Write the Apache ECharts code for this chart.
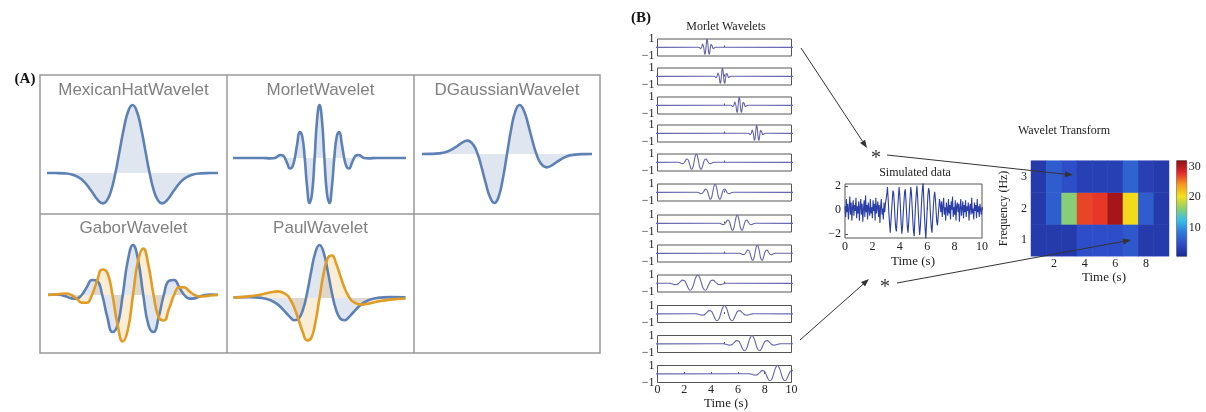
<!DOCTYPE html>
<html>
<head>
<meta charset="utf-8">
<script src="https://cdn.jsdelivr.net/npm/echarts@6/dist/echarts.min.js"></script>
<style>
  body { margin: 0; background: #fff; }
  #chart { width: 1206px; height: 412px; }
</style>
</head>
<body>
<div id="chart"></div>
<script>
// ---- panel A : wavelet shapes ([t, value]) ----
var mexicanHat = [[-5,0],[-4.5,-0.001],[-4,-0.005],[-3.5,-0.025],[-3,-0.089],[-2.5,-0.231],[-2,-0.406],[-1.73,-0.446],[-1.5,-0.406],[-1.25,-0.258],[-1,0],[-0.75,0.33],[-0.5,0.662],[-0.25,0.909],[0,1],
  [0.25,0.909],[0.5,0.662],[0.75,0.33],[1,0],[1.25,-0.258],[1.5,-0.406],[1.73,-0.446],[2,-0.406],[2.5,-0.231],[3,-0.089],[3.5,-0.025],[4,-0.005],[4.5,-0.001],[5,0]];

var morlet = [[-5.5,0],[-3.6,0],[-3.14,-0.007],[-2.83,0],[-2.67,0.03],[-2.51,0.055],[-2.36,0.05],[-2.2,0],[-2.04,-0.11],[-1.88,-0.2],[-1.73,-0.17],[-1.57,0],[-1.41,0.28],[-1.26,0.49],[-1.1,0.41],[-0.94,0],[-0.79,-0.54],[-0.63,-0.85],[-0.47,-0.66],[-0.31,0],[-0.16,0.7],[0,1],
  [0.16,0.7],[0.31,0],[0.47,-0.66],[0.63,-0.85],[0.79,-0.54],[0.94,0],[1.1,0.41],[1.26,0.49],[1.41,0.28],[1.57,0],[1.73,-0.17],[1.88,-0.2],[2.04,-0.11],[2.2,0],[2.36,0.05],[2.51,0.055],[2.67,0.03],[2.83,0],[3.14,-0.007],[3.6,0],[5.5,0]];

var dGaussian = [[-5,0],[-4.5,0.002],[-4,0.013],[-3.5,0.051],[-3,0.145],[-2.75,0.207],[-2.33,0.272],[-2,0.196],[-1.73,0],[-1.5,-0.265],[-1.25,-0.596],[-1,-0.879],[-0.74,-1],[-0.5,-0.879],[-0.25,-0.516],[0,0],
  [0.25,0.516],[0.5,0.879],[0.74,1],[1,0.879],[1.25,0.596],[1.5,0.265],[1.73,0],[2,-0.196],[2.33,-0.272],[2.75,-0.207],[3,-0.145],[3.5,-0.051],[4,-0.013],[4.5,-0.002],[5,0]];

var gaborRe = [[-2.07,0.005],[-1.875,0.01],[-1.75,0],[-1.625,-0.03],[-1.5,-0.067],[-1.375,-0.073],[-1.25,0],[-1.125,0.155],[-1,0.301],[-0.875,0.282],[-0.75,0],[-0.625,-0.443],[-0.5,-0.741],[-0.375,-0.597],[-0.25,0],[-0.125,0.694],[0,1],
  [0.125,0.694],[0.25,0],[0.375,-0.597],[0.5,-0.741],[0.625,-0.443],[0.75,0],[0.875,0.282],[1,0.301],[1.125,0.155],[1.25,0],[1.375,-0.073],[1.5,-0.067],[1.625,-0.03],[1.75,0],[1.875,0.01],[2.07,0.005]];

var gaborIm = [[-2.07,0],[-1.875,0.01],[-1.75,0.025],[-1.625,0.03],[-1.5,0],[-1.375,-0.073],[-1.25,-0.153],[-1.125,-0.155],[-1,0],[-0.875,0.282],[-0.75,0.509],[-0.625,0.443],[-0.5,0],[-0.375,-0.597],[-0.25,-0.928],[-0.125,-0.694],[0,0],
  [0.125,0.694],[0.25,0.928],[0.375,0.597],[0.5,0],[0.625,-0.443],[0.75,-0.509],[0.875,-0.282],[1,0],[1.125,0.155],[1.25,0.153],[1.375,0.073],[1.5,0],[1.625,-0.03],[1.75,-0.025],[1.875,-0.01],[2.07,0]];

var paulRe = [[-2.07,0.012],[-1.7,0.016],[-1.4,0.003],[-1.2,-0.035],[-1,-0.125],[-0.8,-0.283],[-0.7,-0.368],[-0.6,-0.42],[-0.5,-0.389],[-0.4,-0.225],[-0.3,0.091],[-0.2,0.5],[-0.1,0.857],[0,1],
  [0.1,0.857],[0.2,0.5],[0.3,0.091],[0.4,-0.225],[0.5,-0.389],[0.6,-0.42],[0.7,-0.368],[0.8,-0.283],[1,-0.125],[1.2,-0.035],[1.4,0.003],[1.7,0.016],[2.07,0.012]];

var paulIm = [[-2.07,0.01],[-1.7,0.03],[-1.4,0.066],[-1.2,0.102],[-1,0.125],[-0.8,0.066],[-0.7,-0.033],[-0.6,-0.197],[-0.5,-0.42],[-0.4,-0.652],[-0.3,-0.801],[-0.2,-0.757],[-0.1,-0.466],[0,0],
  [0.1,0.466],[0.2,0.757],[0.3,0.801],[0.4,0.652],[0.5,0.42],[0.6,0.197],[0.7,0.033],[0.8,-0.066],[1,-0.125],[1.2,-0.102],[1.4,-0.066],[1.7,-0.03],[2.07,-0.01]];

// ---- panel B : Morlet wavelet family ----
// one wavelet read in units of its own period: [offset in periods, value]
var waveletShape = [[-2,0.026],[-1.875,0.028],[-1.75,0],[-1.625,-0.063],[-1.5,-0.128],[-1.375,-0.125],[-1.25,0],[-1.125,0.222],[-1,0.4],[-0.875,0.351],[-0.75,0],[-0.625,-0.495],[-0.5,-0.795],[-0.375,-0.622],[-0.25,0],[-0.125,0.697],[0,1],
  [0.125,0.697],[0.25,0],[0.375,-0.622],[0.5,-0.795],[0.625,-0.495],[0.75,0],[0.875,0.351],[1,0.4],[1.125,0.222],[1.25,0],[1.375,-0.125],[1.5,-0.128],[1.625,-0.063],[1.75,0],[1.875,0.028],[2,0.026]];
var rowCenters = [3.7, 4.85, 6.1, 7.4, 2.9, 4.3, 5.95, 7.45, 3.0, 5.0, 7.05, 8.95];
var rowPeriods = [0.33, 0.33, 0.33, 0.33, 0.72, 0.72, 0.72, 0.72, 1.15, 1.15, 1.15, 1.15];

// ---- simulated data (0 .. 10 s, one value every 0.05 s) ----
var simStep = 0.05;
var simValues = [
  0.3,-0.6,0.9,-0.2,0.5,-0.8,0.1,1.1,-0.4,0.6,-0.9,0.2,0.8,-0.5,0.4,-0.1,1.0,-0.7,0.3,-0.3,
  0.7,-0.9,0.2,0.9,-0.4,0.5,-1.0,0.1,0.8,-0.6,1.2,-0.2,0.4,-0.8,0.6,0.0,-0.5,0.9,-0.3,0.2,
  -0.7,0.8,-0.1,0.5,-0.9,1.0,-0.3,0.2,0.7,-0.6,0.4,-1.1,0.3,0.9,-0.4,0.1,-0.8,0.6,-0.2,0.5,
  0.4,1.3,1.9,0.9,-0.2,-1.1,-1.9,-1.0,-0.1,
  0.8,1.6,1.4,0.5,-0.7,-1.5,-1.8,-0.9,0.2,
  1.1,1.9,1.2,0.1,-1.2,-2.0,-1.4,-0.3,0.6,
  1.5,1.7,0.8,-0.4,-1.4,-1.9,-1.1,0.0,1.0,
  1.9,1.4,0.3,-0.9,-1.8,-2.2,-0.8,0.4,1.3,
  2.0,1.1,-0.2,-1.3,-2.1,-1.4,-0.3,0.9,1.7,
  2.3,0.9,-0.5,-1.6,-2.4,-1.2,0.1,1.2,1.8,
  1.6,0.5,-0.7,-1.5,-1.9,-0.8,0.3,1.1,1.5,
  0.9,-0.1,-1.0,-1.3,-0.6,0.2,0.9,0.4,
  -0.2,0.7,-0.6,0.3,1.0,-0.4,0.2,-0.9,0.6,0.1,-0.5,0.9,-0.3,0.4,-0.8,0.7,0.0,1.1,-0.6,0.2,
  -0.4,0.8,-0.9,0.3,0.6,-0.2,0.5,-1.0,0.2,0.9,-0.5,0.1,0.7,-0.7,0.4,-0.2,0.8,-0.6,0.3,-0.1,
  0.6,-0.9,0.2,0.5,-0.4,1.0,-0.3,0.1,-0.8,0.6,-0.1,0.4,-0.7,0.9,-0.2,0.3,-0.6,0.5,0.0,-0.4,0.2
];

// ---- wavelet transform (power per time bin) ----
var timeBins = ['1','2','3','4','5','6','7','8','9'];
var freqBins = ['1','2','3'];
var power1Hz = [2.5, 2.5, 2.5, 4.5, 4.5, 4.5, 5.5, 2.5, 2.5];
var power2Hz = [2.5, 6, 16, 27, 27.5, 31, 20.5, 6, 2.5];
var power3Hz = [2.5, 6, 4.5, 3, 3, 3, 6.5, 3, 2.5];
var colorbarTicks = [10, 20, 30];

// ---- styles ----
var blue = '#5e81b5', orange = '#e19c24';
var blueFill = 'rgba(94,129,181,0.28)', orangeFill = 'rgba(225,156,36,0.26)';
var serif = 'Liberation Serif';
var jet = ['#1c2a90','#2e4cc8','#2f78d8','#35c0e8','#8ecf6e','#f2e11c','#f59a20','#e3262a','#8e1014'];
var rowTops = [39, 68, 97, 125, 154, 184, 215, 245, 275, 305.5, 335.5, 365.5];

var chart = echarts.init(document.getElementById('chart'));

var grid = [], xAxis = [], yAxis = [], series = [];

// panel A cells: grid rect + axis ranges
function waveCell(g, xr, yr, curves) {
  var i = grid.length;
  grid.push(g);
  xAxis.push({ gridIndex: i, type: 'value', min: xr[0], max: xr[1], show: false });
  yAxis.push({ gridIndex: i, type: 'value', min: yr[0], max: yr[1], show: false });
  curves.forEach(function (c) {
    series.push({
      type: 'line', xAxisIndex: i, yAxisIndex: i, data: c[0], smooth: true,
      symbol: 'none', silent: true,
      lineStyle: { color: c[1], width: 2.6 },
      areaStyle: { color: c[2], origin: 'auto' }
    });
  });
}
waveCell({ left: 47, top: 91.4, width: 171, height: 122.4 }, [-5, 5], [-0.6, 1.2], [[mexicanHat, blue, blueFill]]);
waveCell({ left: 233, top: 94.4, width: 173, height: 119.2 }, [-5.5, 5.5], [-1.05, 1.2], [[morlet, blue, blueFill]]);
waveCell({ left: 422, top: 95.2, width: 170, height: 117.6 }, [-5, 5], [-1.2, 1.2], [[dGaussian, blue, blueFill]]);
waveCell({ left: 48, top: 235, width: 170, height: 115 }, [-2.07, 2.07], [-1.1, 1.2], [[gaborRe, blue, blueFill], [gaborIm, orange, orangeFill]]);
waveCell({ left: 233.5, top: 234.4, width: 172, height: 116.6 }, [-2.07, 2.07], [-1.0, 1.2], [[paulRe, blue, blueFill], [paulIm, orange, orangeFill]]);

// panel B rows of Morlet wavelets
rowCenters.forEach(function (c, r) {
  var i = grid.length;
  var last = r === rowCenters.length - 1;
  grid.push({ left: 657.5, top: rowTops[r], width: 134, height: 17, show: true, borderColor: '#555', borderWidth: 1 });
  xAxis.push({
    gridIndex: i, type: 'value', min: 0, max: 10, interval: last ? 2 : 5,
    axisLine: { show: false }, splitLine: { show: false },
    axisTick: { show: true, inside: true, length: 2, lineStyle: { color: '#555' } },
    axisLabel: { show: last, margin: 1, fontFamily: serif, fontSize: 12, color: '#222' }
  });
  yAxis.push({
    gridIndex: i, type: 'value', min: -1, max: 1, interval: 1,
    axisLine: { show: false }, splitLine: { show: false }, axisTick: { show: false },
    axisLabel: {
      margin: 3, fontFamily: serif, fontSize: 12, color: '#222',
      formatter: function (v) { return v === 0 ? '' : (v < 0 ? '\u22121' : '1'); }
    }
  });
  var pts = [[-5, 0]];
  waveletShape.forEach(function (p) { pts.push([c + p[0] * rowPeriods[r], p[1]]); });
  pts.push([15, 0]);
  series.push({
    type: 'line', xAxisIndex: i, yAxisIndex: i, data: pts, smooth: true, clip: true,
    symbol: 'none', silent: true, lineStyle: { color: '#6565ad', width: 1.1 }
  });
});

// simulated data
var simIdx = grid.length;
grid.push({ left: 845, top: 184, width: 137, height: 54, show: true, borderColor: '#555', borderWidth: 1 });
xAxis.push({
  gridIndex: simIdx, type: 'value', min: 0, max: 10, interval: 2,
  axisLine: { show: false }, splitLine: { show: false },
  axisTick: { show: true, inside: true, length: 3, lineStyle: { color: '#555' } },
  axisLabel: { margin: 3, fontFamily: serif, fontSize: 12, color: '#222' }
});
yAxis.push({
  gridIndex: simIdx, type: 'value', min: -2.35, max: 2.15,
  axisLine: { show: false }, splitLine: { show: false },
  axisTick: { show: true, inside: true, length: 3, customValues: [-2, 0, 2], lineStyle: { color: '#555' } },
  axisLabel: {
    margin: 4, fontFamily: serif, fontSize: 12, color: '#222', customValues: [-2, 0, 2],
    formatter: function (v) { return String(v).replace('-', '\u2212'); }
  }
});
series.push({
  type: 'line', xAxisIndex: simIdx, yAxisIndex: simIdx,
  data: simValues.map(function (v, k) { return [k * simStep, v]; }),
  symbol: 'none', silent: true, lineStyle: { color: '#2c3fa6', width: 1.1 }
});

// wavelet transform heatmap
var hmIdx = grid.length;
grid.push({ left: 1031, top: 160.7, width: 138, height: 95.5 });
xAxis.push({
  gridIndex: hmIdx, type: 'category', data: timeBins,
  axisLine: { show: false }, axisTick: { show: false },
  axisLabel: { margin: 2, fontFamily: serif, fontSize: 12, color: '#222', interval: function (k, v) { return Number(v) % 2 === 0; } }
});
yAxis.push({
  gridIndex: hmIdx, type: 'category', data: freqBins,
  axisLine: { show: false }, axisTick: { show: false },
  axisLabel: { margin: 4, fontFamily: serif, fontSize: 12, color: '#222' },
  name: 'Frequency (Hz)', nameLocation: 'middle', nameGap: 21, nameRotate: 90,
  nameTextStyle: { fontFamily: serif, fontSize: 12, color: '#222' }
});
var hmData = [];
[power1Hz, power2Hz, power3Hz].forEach(function (row, f) {
  row.forEach(function (v, t) { hmData.push([t, f, v]); });
});
var hmSeries = series.length;
series.push({
  type: 'heatmap', xAxisIndex: hmIdx, yAxisIndex: hmIdx, data: hmData, silent: true,
  itemStyle: { borderWidth: 0 }, emphasis: { disabled: true }
});

// colour bar
var cbIdx = grid.length;
grid.push({ left: 1176.7, top: 160.7, width: 10, height: 95.5, show: true, borderColor: '#444', borderWidth: 0.8 });
xAxis.push({ gridIndex: cbIdx, type: 'category', data: ['c'], show: false });
yAxis.push({
  gridIndex: cbIdx, type: 'value', min: 0.5, max: 32, position: 'right',
  axisLine: { show: false }, splitLine: { show: false }, axisTick: { show: false },
  axisLabel: { margin: 2, fontFamily: serif, fontSize: 12, color: '#222', customValues: colorbarTicks }
});
series.push({
  type: 'bar', xAxisIndex: cbIdx, yAxisIndex: cbIdx, data: [32], barWidth: '100%', clip: true, silent: true,
  itemStyle: {
    color: new echarts.graphic.LinearGradient(0, 1, 0, 0, jet.map(function (c, k) { return { offset: k / (jet.length - 1), color: c }; }))
  }
});

// decorations: frame, labels, arrows
function txt(s, x, y, font, fill, align) {
  return { type: 'text', x: x, y: y, z: 100, silent: true,
    style: { text: s, font: font, fill: fill || '#222', align: align || 'center', verticalAlign: 'middle' } };
}
function arrow(x1, y1, x2, y2) {
  var dx = x2 - x1, dy = y2 - y1, len = Math.sqrt(dx * dx + dy * dy);
  var ux = dx / len, uy = dy / len, hl = 8, hw = 3;
  var bx = x2 - ux * hl, by = y2 - uy * hl;
  return [
    { type: 'line', z: 100, silent: true, shape: { x1: x1, y1: y1, x2: bx, y2: by }, style: { stroke: '#333', lineWidth: 1 } },
    { type: 'polygon', z: 100, silent: true, shape: { points: [[x2, y2], [bx - uy * hw, by + ux * hw], [bx + uy * hw, by - ux * hw]] }, style: { fill: '#333' } }
  ];
}
var frame = { stroke: '#999', lineWidth: 1.5 };
var titleFont = '17px "Liberation Sans"';
var graphic = [
  { type: 'rect', silent: true, shape: { x: 40, y: 75, width: 560, height: 278 }, style: { fill: 'none', stroke: '#999', lineWidth: 1.5 } },
  { type: 'line', silent: true, shape: { x1: 227, y1: 75, x2: 227, y2: 353 }, style: frame },
  { type: 'line', silent: true, shape: { x1: 414, y1: 75, x2: 414, y2: 353 }, style: frame },
  { type: 'line', silent: true, shape: { x1: 40, y1: 214, x2: 600, y2: 214 }, style: frame },
  txt('MexicanHatWavelet', 133.5, 90, titleFont, '#808080'),
  txt('MorletWavelet', 320.5, 90, titleFont, '#808080'),
  txt('DGaussianWavelet', 507, 90, titleFont, '#808080'),
  txt('GaborWavelet', 133.5, 228, titleFont, '#808080'),
  txt('PaulWavelet', 320.5, 228, titleFont, '#808080'),
  txt('(A)', 25, 79, 'bold 15px "Liberation Serif"', '#111'),
  txt('(B)', 641, 18, 'bold 15px "Liberation Serif"', '#111'),
  txt('Morlet Wavelets', 726, 27, '12px "Liberation Serif"'),
  txt('Time (s)', 726, 404, '13px "Liberation Serif"'),
  txt('Simulated data', 915, 173, '12px "Liberation Serif"'),
  txt('Time (s)', 913, 262, '13px "Liberation Serif"'),
  txt('Wavelet Transform', 1064, 131, '12px "Liberation Serif"'),
  txt('Time (s)', 1104, 278, '13px "Liberation Serif"'),
  txt('*', 876, 159, '20px "Liberation Serif"', '#333'),
  txt('*', 885, 288, '20px "Liberation Serif"', '#333')
].concat(
  arrow(801, 48, 867, 148),
  arrow(887, 155, 1073, 175),
  arrow(800, 340, 869, 279),
  arrow(897, 283, 1131, 240)
);

chart.setOption({
  animation: false,
  backgroundColor: '#fff',
  grid: grid,
  xAxis: xAxis,
  yAxis: yAxis,
  visualMap: {
    show: false, type: 'continuous', seriesIndex: hmSeries, dimension: 2,
    min: 0.5, max: 32, inRange: { color: jet }
  },
  graphic: graphic,
  series: series
});
</script>
</body>
</html>
